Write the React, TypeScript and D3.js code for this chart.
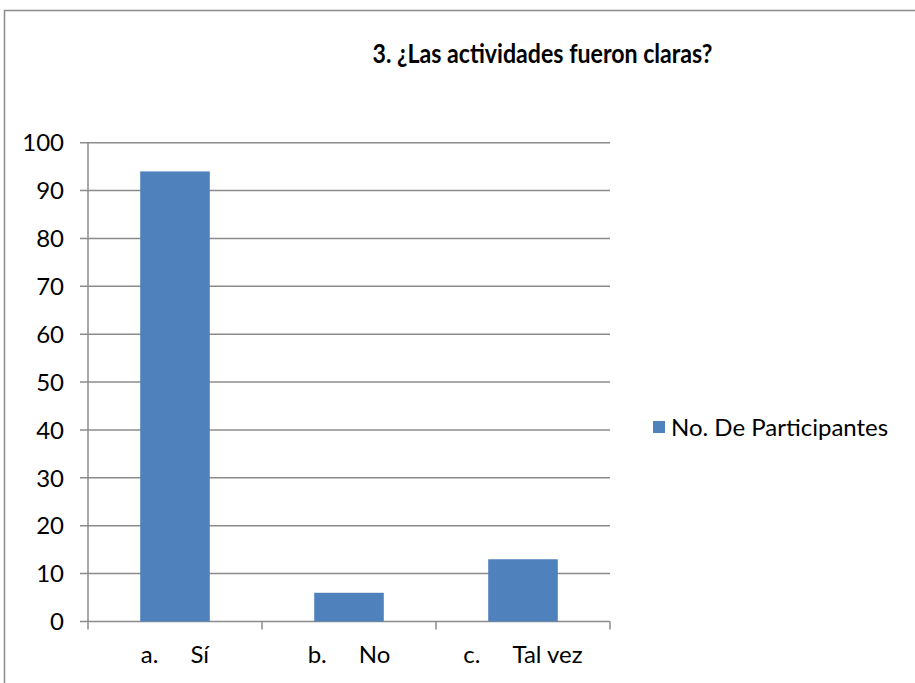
import React, { useRef, useEffect } from 'react';
import * as d3 from 'd3';

// datos del grafico
const categories = ['a.', 'b.', 'c.'];
const labels = ['Sí', 'No', 'Tal vez'];
const participants = [94, 6, 13];
const yTicks = [0, 10, 20, 30, 40, 50, 60, 70, 80, 90, 100];
const title = '3. ¿Las actividades fueron claras?';
const seriesName = 'No. De Participantes';

const App = () => {
    const ref = useRef<SVGSVGElement | null>(null);

    useEffect(() => {
        if (!ref.current) return;
        const svg = d3.select(ref.current);
        svg.selectAll('*').remove();

        const font = 'Lato, "Liberation Sans", Arial, sans-serif';
        const grid = '#8c8c8c';
        const barColor = '#4f81bd';
        const fs = '24px';

        const left = 88, right = 610, top = 142.7, bottom = 621.5;

        // marco del grafico
        svg.append('rect')
            .attr('x', 4.5).attr('y', 10.5)
            .attr('width', 1200).attr('height', 1000)
            .attr('fill', '#fff')
            .attr('stroke', grid)
            .attr('stroke-width', 1.5);

        const t = svg.append('text')
            .attr('x', 542.5).attr('y', 63)
            .attr('text-anchor', 'middle')
            .style('font-family', font)
            .style('font-weight', 'bold')
            .style('font-size', '27px')
            .attr('fill', '#000')
            .text(title);
        // ajustar ancho del titulo al original
        if ((t.node() as SVGTextElement).getComputedTextLength() > 340) {
            t.attr('textLength', 340).attr('lengthAdjust', 'spacingAndGlyphs');
        }

        const x = d3.scaleBand<string>()
            .domain(categories)
            .range([left, right])
            .padding(0);
        const y = d3.scaleLinear().domain([0, 100]).range([bottom, top]);

        // lineas de cuadricula
        svg.append('g')
            .selectAll('line')
            .data(yTicks)
            .join('line')
            .attr('x1', left - 8).attr('x2', right)
            .attr('y1', d => y(d)).attr('y2', d => y(d))
            .attr('stroke', grid)
            .attr('stroke-width', 1.5);

        svg.append('line')
            .attr('x1', left).attr('x2', left)
            .attr('y1', top).attr('y2', bottom)
            .attr('stroke', grid)
            .attr('stroke-width', 1.5);

        // marcas del eje x
        const bounds = categories.map(c => x(c) as number).concat([right]);
        svg.append('g')
            .selectAll('line')
            .data(bounds)
            .join('line')
            .attr('x1', d => d).attr('x2', d => d)
            .attr('y1', bottom).attr('y2', bottom + 8)
            .attr('stroke', grid)
            .attr('stroke-width', 1.5);

        svg.append('g')
            .selectAll('text')
            .data(yTicks)
            .join('text')
            .attr('x', 64)
            .attr('y', d => y(d))
            .attr('dy', '0.36em')
            .attr('text-anchor', 'end')
            .style('font-family', font)
            .style('font-size', fs)
            .attr('fill', '#000')
            .text(d => d);

        // barras
        const bw = x.bandwidth() * 0.4;
        svg.append('g')
            .selectAll('rect')
            .data(participants)
            .join('rect')
            .attr('x', (d, i) => (x(categories[i]) as number) + (x.bandwidth() - bw) / 2)
            .attr('y', d => y(d))
            .attr('width', bw)
            .attr('height', d => y(0) - y(d))
            .attr('fill', barColor);

        // etiquetas de categorias (con tabulador)
        const gap = 32;
        categories.forEach((c, i) => {
            const g = svg.append('g');
            const a = g.append('text')
                .style('font-family', font)
                .style('font-size', fs)
                .attr('fill', '#000')
                .attr('y', 663)
                .text(c);
            const b = g.append('text')
                .style('font-family', font)
                .style('font-size', fs)
                .attr('fill', '#000')
                .attr('y', 663)
                .text(labels[i]);
            const wa = (a.node() as SVGTextElement).getComputedTextLength();
            const wb = (b.node() as SVGTextElement).getComputedTextLength();
            const cx = (x(c) as number) + x.bandwidth() / 2;
            const start = cx - (wa + gap + wb) / 2;
            a.attr('x', start);
            b.attr('x', start + wa + gap);
        });

        // leyenda
        svg.append('rect')
            .attr('x', 653).attr('y', 421)
            .attr('width', 12).attr('height', 12)
            .attr('fill', barColor);
        svg.append('text')
            .attr('x', 671).attr('y', 427)
            .attr('dy', '0.36em')
            .style('font-family', font)
            .style('font-size', fs)
            .attr('fill', '#000')
            .text(seriesName);
    }, []);

    return (
        <svg
            ref={ref}
            width={915}
            height={683}
            style={{ position: 'absolute', left: 0, top: 0, background: '#fff' }}
        />
    );
};

export default App;
